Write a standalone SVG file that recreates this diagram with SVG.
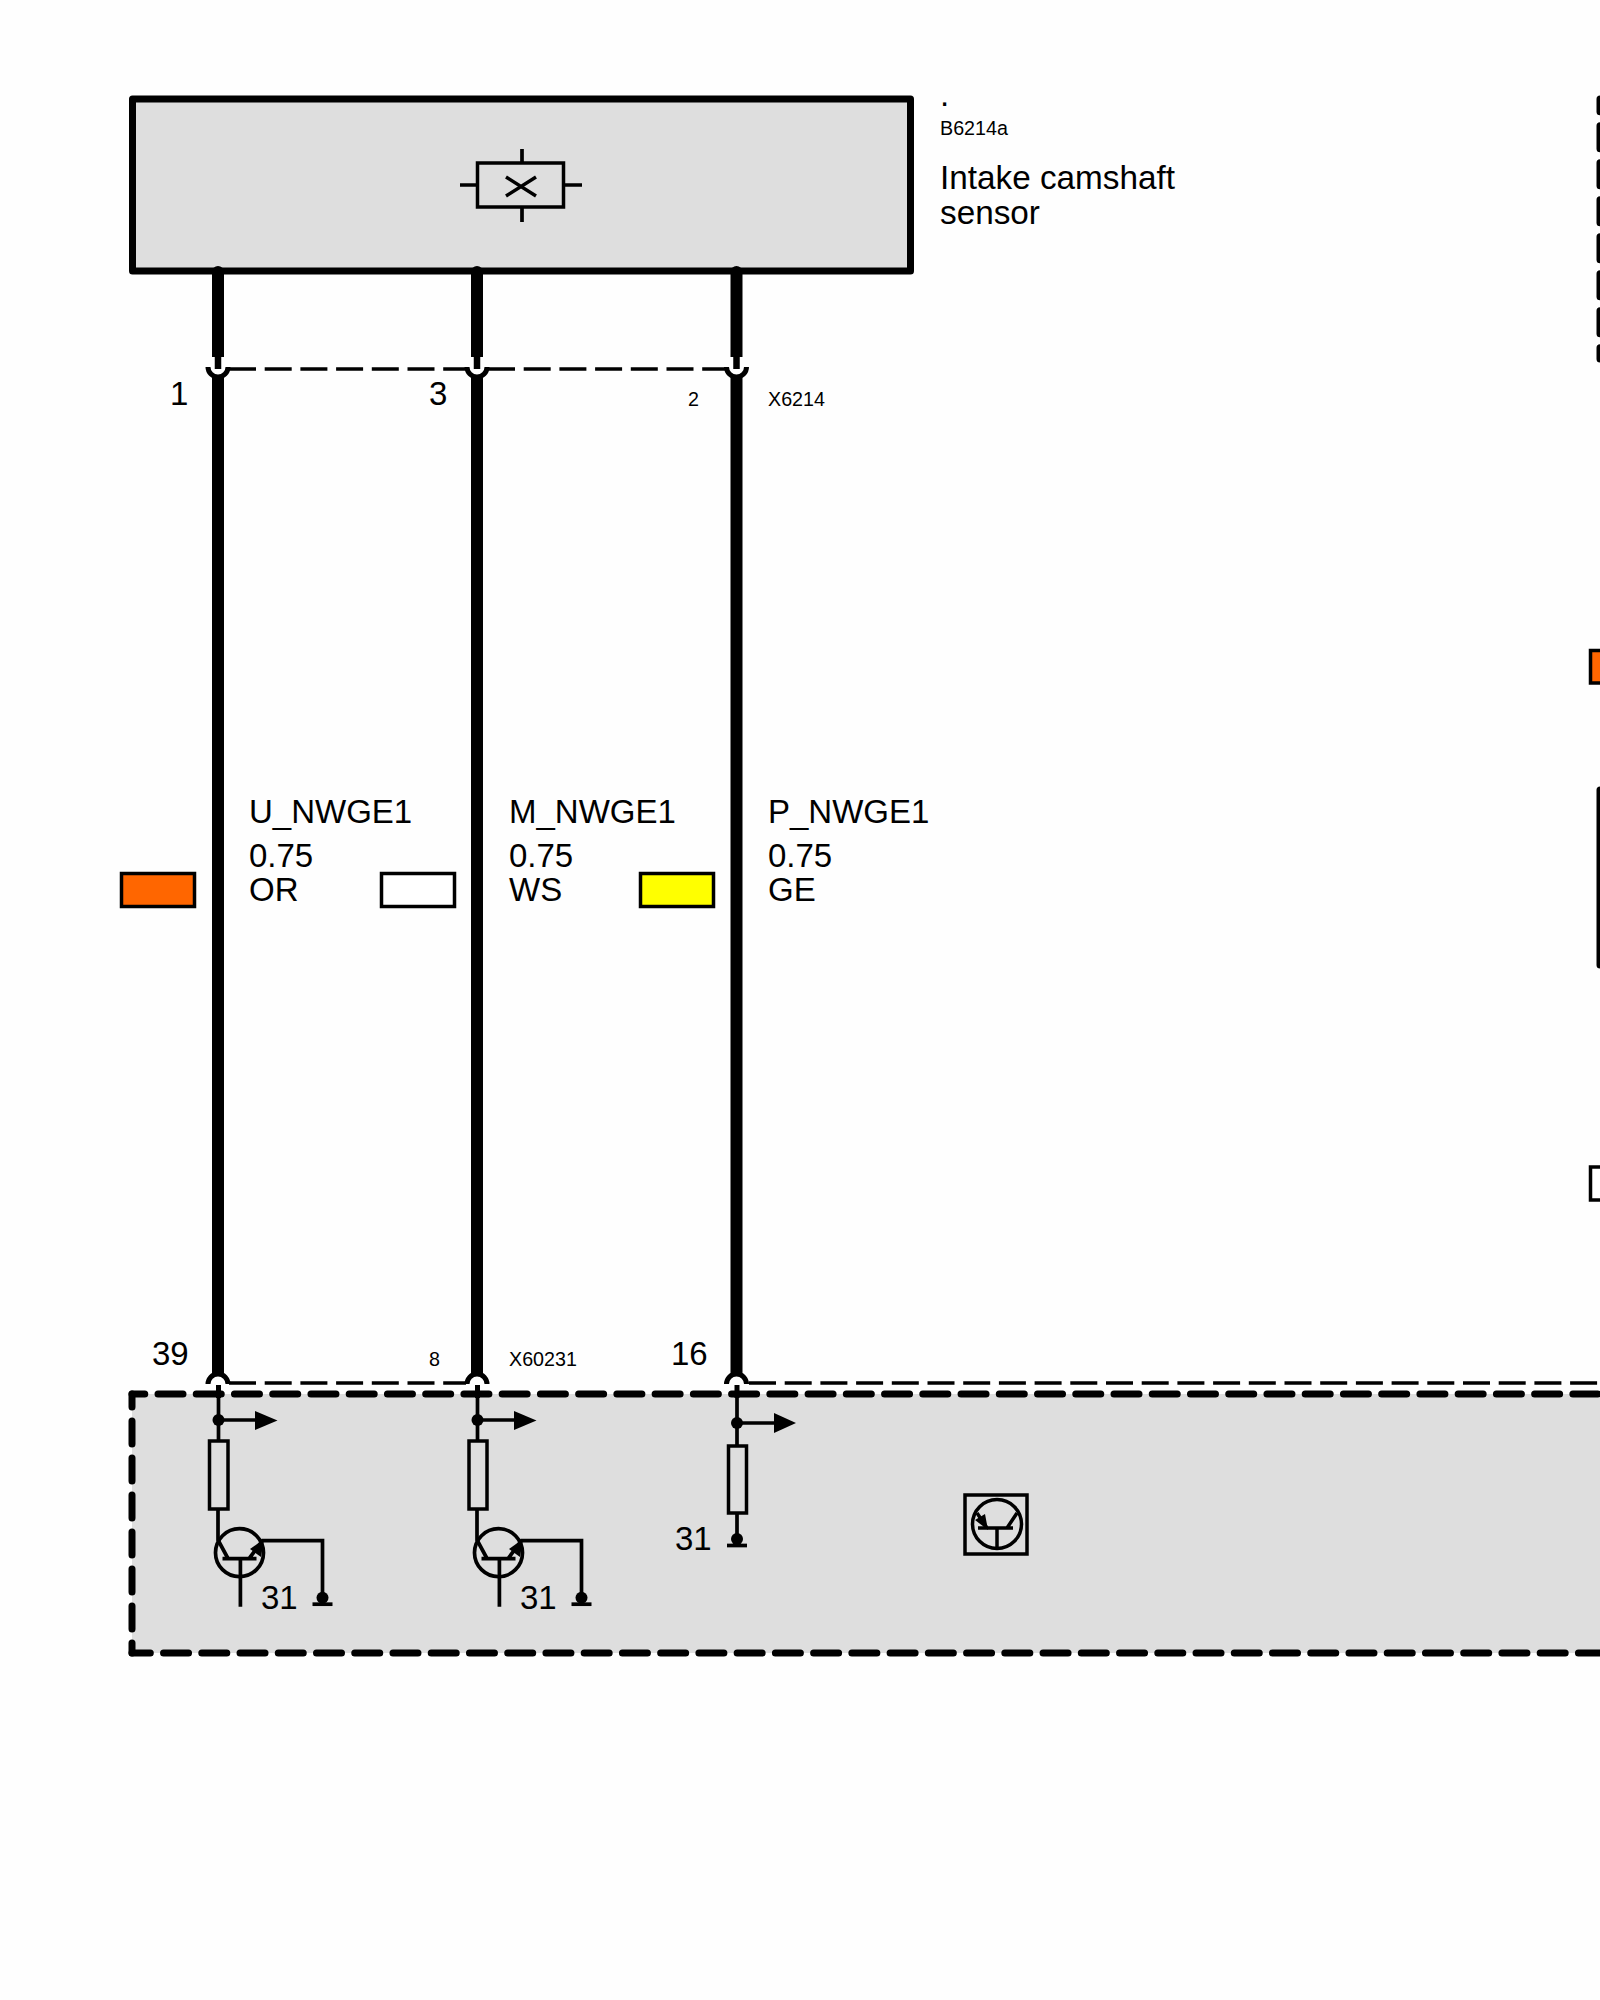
<svg xmlns="http://www.w3.org/2000/svg" xmlns:xlink="http://www.w3.org/1999/xlink" width="1600" height="2000" viewBox="0 0 1600 2000">
<style>
text{font-family:"Liberation Sans",Arial,sans-serif;font-size:33px;fill:#000}
text.s{font-size:19.700px}
text.t{font-size:33.300px}
.ln{fill:none;stroke:#000;stroke-width:3.500}
.thin{fill:none;stroke:#000;stroke-width:3.700}
.wireb{fill:none;stroke:#000;stroke-width:12}
.sock{fill:none;stroke:#000;stroke-width:5}
.dsh{fill:none;stroke:#000;stroke-width:3.500;stroke-dasharray:27 8.700}
.bd{fill:none;stroke:#000;stroke-width:7;stroke-linecap:round;stroke-dasharray:25 13.240}
.bdv{fill:none;stroke:#000;stroke-width:7;stroke-linecap:round;stroke-dasharray:23 14}
.sw{stroke:#000;stroke-width:3.500}
.k{fill:#000;stroke:none}
</style>
<defs>
<g id="tr">
<path class="thin" d="M218 1509V1540L228 1558.500M222.500 1558.700H256.500M240.400 1558.700V1606.700M249 1558.700L262.500 1540.700H322.500V1598"/>
<circle class="thin" cx="239.500" cy="1552.700" r="24"/>
<path class="k" d="M264 1539L261 1557L250 1549Z"/>
</g>
<g id="gnd">
<circle class="k" cx="0" cy="0" r="6"/>
<path class="thin" d="M-10 6.500H10"/>
</g>
</defs>
<rect width="1600" height="2000" fill="#fefefe"/>

<g id="B6214a">
<rect x="132.500" y="99" width="778" height="172" fill="#dedede" stroke="#000" stroke-width="7" stroke-linejoin="round"/>
<rect class="ln" x="477.500" y="163" width="86" height="44"/>
<path class="thin" d="M522 149V163M522 207V222M460 185H477M564 185H582"/>
<path class="ln" stroke-width="3" d="M506 177L536 196M506 196L536 177"/>
<text x="940" y="106">.</text>
<text class="s" x="940" y="135">B6214a</text>
<text class="t" x="940" y="189">Intake camshaft</text>
<text class="t" x="940" y="224">sensor</text>
</g>

<g id="control-unit">
<rect x="132" y="1394" width="1468" height="259" fill="#dedede"/>
<path class="bd" stroke-dashoffset="12.240" d="M132 1394H1600"/>
<path class="bdv" stroke-dashoffset="10" d="M132 1394V1653"/>
<path class="bd" stroke-dashoffset="6.700" d="M132 1653H1600"/>
<g id="ic-symbol">
<rect class="ln" x="965" y="1495" width="62" height="59"/>
<circle class="ln" cx="997" cy="1524" r="24.500"/>
<path class="ln" d="M978 1528H1013M997 1528V1548M977 1513L987 1528M1017 1513L1007 1528"/>
<path class="k" d="M988 1530L975 1520L985 1514Z"/>
</g>
</g>

<g id="circuit-u">
<path class="thin" d="M218.500 1398V1441"/>
<circle class="k" cx="218.500" cy="1420" r="6"/>
<path class="thin" d="M218.500 1420H256"/>
<path class="k" d="M255 1411L277.500 1420.500L255 1430Z"/>
<rect class="ln" x="209.500" y="1441" width="18.500" height="68"/>
<use xlink:href="#tr" href="#tr"/>
<use xlink:href="#gnd" href="#gnd" x="322.500" y="1597.700"/>
<text x="261" y="1609">31</text>
</g>

<g id="circuit-m">
<path class="thin" d="M477.500 1398V1441"/>
<circle class="k" cx="477.500" cy="1420" r="6"/>
<path class="thin" d="M477.500 1420H515"/>
<path class="k" d="M514 1411L536.500 1420.500L514 1430Z"/>
<rect class="ln" x="469" y="1441" width="18" height="68"/>
<use xlink:href="#tr" href="#tr" x="259"/>
<use xlink:href="#gnd" href="#gnd" x="581.500" y="1597.700"/>
<text x="520" y="1609">31</text>
</g>

<g id="circuit-p">
<path class="thin" d="M737 1398V1446M737 1513V1539"/>
<circle class="k" cx="737" cy="1423" r="6"/>
<path class="thin" d="M737 1423H775"/>
<path class="k" d="M774 1413L796 1423L774 1433Z"/>
<rect class="ln" x="728.500" y="1446" width="18" height="67"/>
<use xlink:href="#gnd" href="#gnd" x="737" y="1539"/>
<text x="675" y="1550">31</text>
</g>

<g id="connectors">
<path class="wireb" d="M218 272V357M477 272V357M736.500 272V357"/>
<circle class="k" cx="218" cy="272" r="6"/>
<circle class="k" cx="477" cy="272" r="6"/>
<circle class="k" cx="736.500" cy="272" r="6"/>
<path fill="none" stroke="#000" stroke-width="6.500" d="M218 357V369M477 357V369M736.500 357V369"/>
<path class="sock" d="M208 367A10 10 0 0 0 228 367M467 367A10 10 0 0 0 487 367M726.500 367A10 10 0 0 0 746.500 367"/>
<path class="wireb" d="M218 377V1375M477 377V1375M736.500 377V1375"/>
<path class="sock" d="M208 1384A10 10 0 0 1 228 1384M467 1384A10 10 0 0 1 487 1384M726.500 1384A10 10 0 0 1 746.500 1384"/>
<path fill="none" stroke="#000" stroke-width="5" d="M218.500 1385V1398M477.500 1385V1398M737 1385V1398"/>
<path class="dsh" d="M229 369H466M488 369H725"/>
<path class="dsh" d="M229 1383H466M749 1383H1600"/>
</g>

<g id="connector-labels">
<text x="170" y="405">1</text>
<text x="429" y="405">3</text>
<text class="s" x="688" y="405.500">2</text>
<text class="s" x="768" y="405.500">X6214</text>
<text x="152" y="1365">39</text>
<text class="s" x="429" y="1365.500">8</text>
<text class="s" x="509" y="1365.500">X60231</text>
<text x="671" y="1365">16</text>
</g>

<g id="wire-u">
<rect class="sw" x="121.500" y="873.500" width="73" height="33" fill="#ff6600"/>
<text x="249" y="823">U_NWGE1</text>
<text x="249" y="867">0.75</text>
<text x="249" y="901">OR</text>
</g>
<g id="wire-m">
<rect class="sw" x="381.500" y="873.500" width="73" height="33" fill="#fff"/>
<text x="509" y="823">M_NWGE1</text>
<text x="509" y="867">0.75</text>
<text x="509" y="901">WS</text>
</g>
<g id="wire-p">
<rect class="sw" x="640.500" y="873.500" width="73" height="33" fill="#ffff00"/>
<text x="768" y="823">P_NWGE1</text>
<text x="768" y="867">0.75</text>
<text x="768" y="901">GE</text>
</g>

<g id="right-edge">
<path class="bdv" stroke-dashoffset="10.300" d="M1600 99V359"/>
<rect class="sw" x="1590.500" y="650.500" width="20" height="32.500" fill="#ff6600"/>
<path fill="none" stroke="#000" stroke-width="7" stroke-linecap="round" d="M1600 790V965"/>
<rect class="sw" x="1590.500" y="1167" width="20" height="33" fill="#fff"/>
</g>
</svg>
